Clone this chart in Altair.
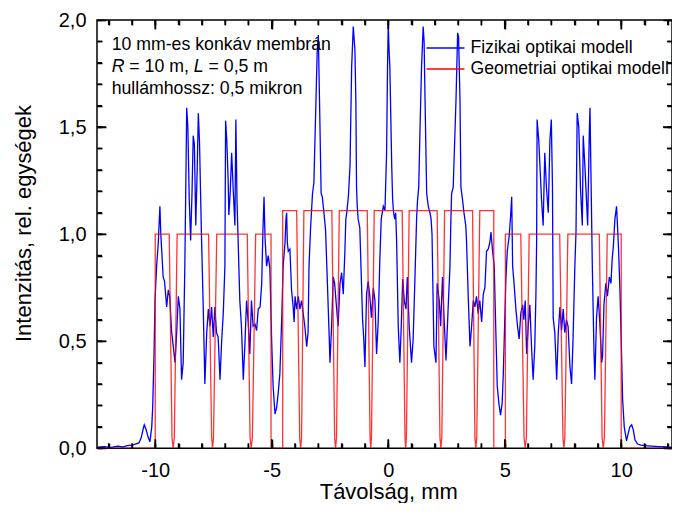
import altair as alt
import pandas as pd

FONT = "Liberation Sans"
series = ["Fizikai optikai modell", "Geometriai optikai modell"]
TICK = "tick"

# Physical optics model (blue)
blue_x = [-12.5, -12.2, -11.9, -11.6, -11.4, -11.2, -11.0, -10.85, -10.7, -10.6, -10.52, -10.47, -10.4, -10.3,
          -10.23, -10.15, -10.11, -10.05, -10.01, -9.94, -9.87, -9.8, -9.76, -9.73, -9.66, -9.6, -9.51, -9.44,
          -9.38, -9.30, -9.2, -9.15, -9.08, -9.01, -8.94, -8.87, -8.80, -8.73, -8.68, -8.65, -8.6, -8.54, -8.48,
          -8.42, -8.37, -8.32, -8.26, -8.2, -8.15, -8.1, -8.02, -7.94, -7.87, -7.79, -7.72, -7.65, -7.58, -7.51,
          -7.44, -7.37, -7.3, -7.22, -7.15, -7.08, -7.01, -6.98, -6.93, -6.87, -6.84, -6.78, -6.72, -6.65, -6.58,
          -6.54, -6.49, -6.44, -6.37, -6.30, -6.22, -6.15, -6.08, -6.01, -5.94, -5.87, -5.80, -5.72, -5.65, -5.58,
          -5.5, -5.43, -5.38, -5.33, -5.29, -5.22, -5.15, -5.08, -5.00, -4.94, -4.86, -4.79, -4.72, -4.65, -4.57,
          -4.51, -4.43, -4.39, -4.36, -4.33, -4.29, -4.22, -4.15, -4.08, -4.04, -4.0, -3.93, -3.86, -3.79, -3.72,
          -3.65, -3.58, -3.50, -3.44, -3.4, -3.33, -3.25, -3.19, -3.10, -3.05, -3.00, -2.95, -2.88, -2.83, -2.76,
          -2.69, -2.62, -2.53, -2.50, -2.43, -2.36, -2.3, -2.22, -2.15, -2.07, -2.0, -1.93, -1.86, -1.82, -1.78,
          -1.71, -1.64, -1.57, -1.50, -1.43, -1.39, -1.36, -1.33, -1.29, -1.22, -1.17, -1.10, -1.05, -1.00, -0.93,
          -0.86, -0.79, -0.72, -0.64, -0.57, -0.50, -0.43, -0.36, -0.3, -0.21, -0.14, -0.07, -0.03, 0.0,
          0.04, 0.07, 0.15, 0.19, 0.23, 0.28, 0.32, 0.36, 0.43, 0.50, 0.56, 0.62, 0.69, 0.76, 0.82, 0.90, 1.0,
          1.07, 1.14, 1.22, 1.26, 1.31, 1.36, 1.43, 1.50, 1.54, 1.58, 1.65, 1.72, 1.79, 1.84, 1.88, 1.96, 2.05,
          2.10, 2.19, 2.25, 2.33, 2.40, 2.48, 2.57, 2.65, 2.69, 2.72, 2.79, 2.91, 2.98, 3.02, 3.08, 3.12, 3.19,
          3.25, 3.33, 3.36, 3.44, 3.51, 3.58, 3.65, 3.72, 3.79, 3.86, 3.93, 4.01, 4.08, 4.15, 4.22, 4.29, 4.36,
          4.41, 4.48, 4.55, 4.62, 4.68, 4.75, 4.82, 4.89, 4.94, 4.98, 5.05, 5.11, 5.19, 5.25, 5.30, 5.34, 5.4,
          5.48, 5.55, 5.62, 5.69, 5.77, 5.82, 5.88, 5.94, 6.01, 6.08, 6.15, 6.22, 6.29, 6.34, 6.37, 6.39, 6.46,
          6.58, 6.65, 6.72, 6.79, 6.87, 6.94, 7.0, 7.05, 7.08, 7.15, 7.23, 7.30, 7.37, 7.44, 7.51, 7.58, 7.65,
          7.72, 7.80, 7.87, 7.94, 8.01, 8.06, 8.11, 8.18, 8.25, 8.33, 8.37, 8.44, 8.51, 8.56, 8.63, 8.66, 8.71,
          8.76, 8.83, 8.87, 8.94, 9.01, 9.08, 9.16, 9.2, 9.26, 9.34, 9.41, 9.49, 9.56, 9.61, 9.66, 9.73, 9.80,
          9.84, 9.89, 9.95, 10.0, 10.06, 10.13, 10.23, 10.3, 10.37, 10.45, 10.52, 10.59, 10.7, 10.85, 11.0, 11.3,
          11.6, 12.0, 12.5]
blue_y = [0.005, 0.008, 0.004, 0.01, 0.006, 0.012, 0.015, 0.02, 0.025, 0.05, 0.09, 0.11, 0.09, 0.05,
          0.03, 0.1, 0.19, 0.45, 0.69, 0.85, 0.96, 1.13, 1.0, 0.94, 0.80, 0.78, 0.66, 0.74,
          0.71, 0.55, 0.45, 0.40, 0.54, 0.71, 0.65, 0.32, 0.40, 0.85, 1.3, 1.59, 1.50, 1.16, 0.97,
          1.2, 1.46, 1.42, 1.04, 1.3, 1.565, 1.43, 1.01, 0.66, 0.30, 0.54, 0.65, 0.57, 0.66, 0.52,
          0.66, 0.54, 0.52, 0.32, 0.5, 0.63, 0.85, 1.53, 1.44, 1.25, 1.09, 1.2, 1.38, 1.2, 1.04,
          1.535, 1.16, 0.96, 0.69, 0.57, 0.32, 0.49, 0.69, 0.59, 0.44, 0.69, 0.57, 0.58, 0.55, 0.65,
          0.66, 0.77, 1.01, 1.175, 0.99, 0.85, 0.90, 0.84, 0.49, 0.29, 0.16, 0.19, 0.26, 0.35, 0.61,
          0.85, 0.96, 1.07, 1.10, 0.96, 0.92, 0.93, 0.74, 0.66, 0.59, 0.71, 0.65, 0.71, 0.65, 0.69,
          0.63, 0.57, 0.475, 0.54, 0.85, 1.035, 1.19, 1.24, 1.63, 1.85, 1.93, 1.63, 1.19, 1.175, 1.10,
          1.02, 0.80, 0.51, 0.40, 0.57, 0.80, 0.77, 0.66, 0.57, 0.77, 0.82, 0.72, 0.92, 1.07, 1.10,
          1.175, 1.32, 1.78, 1.97, 1.86, 1.63, 1.22, 1.13, 1.07, 1.03, 0.85, 0.60, 0.51, 0.38, 0.72,
          0.78, 0.71, 0.61, 0.75, 0.69, 0.44, 0.59, 0.88, 1.07, 1.13, 1.11, 1.38, 1.78, 1.98,
          1.85, 1.78, 1.32, 1.16, 1.10, 1.07, 1.1, 0.97, 0.57, 0.40, 0.57, 0.79, 0.69, 0.65, 0.80, 0.57, 0.40,
          0.51, 0.77, 1.08, 1.16, 1.22, 1.47, 1.78, 1.97, 1.9, 1.63, 1.19, 1.13, 1.10, 1.07, 1.0, 0.475, 0.40,
          0.77, 0.69, 0.57, 0.80, 0.60, 0.41, 0.65, 0.85, 1.07, 1.19, 1.22, 1.63, 1.94, 1.92, 1.63, 1.22, 1.16,
          1.10, 1.04, 0.97, 0.69, 0.475, 0.57, 0.69, 0.66, 0.71, 0.63, 0.69, 0.59, 0.72, 0.75, 0.92, 0.93, 0.96,
          1.01, 0.92, 0.85, 0.54, 0.29, 0.21, 0.155, 0.21, 0.35, 0.51, 0.79, 0.92, 0.99, 1.08, 1.175, 0.85, 0.77,
          0.65, 0.57, 0.51, 0.63, 0.67, 0.60, 0.69, 0.44, 0.57, 0.67, 0.475, 0.32, 0.475, 0.72, 0.97, 1.535, 1.44,
          1.16, 1.04, 1.38, 1.22, 1.10, 1.44, 1.535, 1.22, 0.61, 0.54, 0.32, 0.54, 0.66, 0.55, 0.65, 0.54, 0.6,
          0.57, 0.38, 0.30, 0.54, 0.85, 1.01, 1.565, 1.50, 1.22, 1.04, 1.46, 1.32, 1.16, 1.04, 1.47, 1.59, 1.22,
          0.85, 0.46, 0.32, 0.61, 0.71, 0.59, 0.40, 0.43, 0.67, 0.77, 0.71, 0.80, 0.77, 0.88, 0.94, 1.07, 1.13,
          1.04, 0.92, 0.72, 0.51, 0.23, 0.10, 0.035, 0.07, 0.10, 0.11, 0.085, 0.04, 0.02, 0.015, 0.012, 0.01,
          0.008, 0.006, 0.005]

# Geometric optics model (red)
red_x = [-12.5, -10.0, -10.0, -9.40, -9.28, -9.23, -9.18, -9.06, -7.71, -7.58, -7.54, -7.50, -7.36, -6.05,
         -5.93, -5.88, -5.83, -5.69, -5.03, -5.03, -4.53, -4.53, -3.93, -3.80, -3.76, -3.72, -3.62, -2.42,
         -2.30, -2.26, -2.22, -2.10, -0.90, -0.78, -0.75, -0.72, -0.60, 0.60, 0.72, 0.75, 0.78, 0.90, 2.10,
         2.22, 2.26, 2.30, 2.42, 3.62, 3.72, 3.76, 3.80, 3.93, 4.53, 4.53, 5.03, 5.03, 5.69, 5.83, 5.88, 5.93,
         6.05, 7.36, 7.50, 7.54, 7.58, 7.71, 9.06, 9.18, 9.23, 9.28, 9.40, 10.0, 10.0, 12.5]
red_y = [0, 0, 1.0, 1.0, 0.05, 0, 0.05, 1.0, 1.0, 0.05, 0, 0.05, 1.0, 1.0,
         0.05, 0, 0.05, 1.0, 1.0, 0, 0, 1.11, 1.11, 0.05, 0, 0.05, 1.11, 1.11,
         0.05, 0, 0.05, 1.11, 1.11, 0.05, 0, 0.05, 1.11, 1.11, 0.05, 0, 0.05, 1.11, 1.11,
         0.05, 0, 0.05, 1.11, 1.11, 0.05, 0, 0.05, 1.11, 1.11, 0, 0, 1.0, 1.0, 0.05, 0, 0.05,
         1.0, 1.0, 0.05, 0, 0.05, 1.0, 1.0, 0.05, 0, 0.05, 1.0, 1.0, 0, 0]

x_major = [-10, -5, 0, 5, 10]
x_minor = list(range(-12, 13))
y_major = [0.0, 0.5, 1.0, 1.5, 2.0]
y_minor = [round(i * 0.1, 1) for i in range(21)]

ann_x = -11.87
ann_lines = ["10 mm-es konkáv membrán", "hullámhossz: 0,5 mikron"]
ann_line_y = [1.862, 1.656]
ann_mid_y = 1.759

PX = 23.3                      # pixels per mm on the x axis
X_MIN, X_MAX = -12.5, 12.18    # right edge limited by the page width
Y_MIN, Y_MAX = 0.0, 2.0
W = (X_MAX - X_MIN) * PX
H = 428.3
PY = H / (Y_MAX - Y_MIN)       # pixels per unit on the y axis
MAJ, MIN = 9, 5                # tick lengths in px

blue_df = pd.DataFrame({"x": blue_x, "y": blue_y, "i": range(len(blue_x)), "s": series[0], "id": 0})
red_df = pd.DataFrame({"x": red_x, "y": red_y, "i": range(len(red_x)), "s": series[1], "id": 0})

# inward tick segments on all four sides (start / end rows for each tick)
rows = []
tid = 1
for vals, ln in ((x_major, MAJ), (x_minor, MIN)):
    for v in vals:
        for edge, d in ((Y_MIN, 1), (Y_MAX, -1)):
            rows += [(float(v), edge, tid, 0, TICK), (float(v), edge + d * ln / PY, tid, 1, TICK)]
            tid += 1
for vals, ln in ((y_major, MAJ), (y_minor, MIN)):
    for v in vals:
        for edge, d in ((X_MIN, 1), (X_MAX, -1)):
            rows += [(edge, float(v), tid, 0, TICK), (edge + d * ln / PX, float(v), tid, 1, TICK)]
            tid += 1
tick_df = pd.DataFrame(rows, columns=["x", "y", "id", "i", "s"])

xs = alt.Scale(domain=[X_MIN, X_MAX], nice=False, zero=False)
ys = alt.Scale(domain=[Y_MIN, Y_MAX], nice=False, zero=False)

color = alt.Color(
    "s:N",
    scale=alt.Scale(domain=series + [TICK], range=["#0000ff", "#ff0000", "#000000"]),
    legend=alt.Legend(
        values=series,
        title=None, orient="none", legendX=328.5, legendY=17.5, symbolType="stroke",
        symbolSize=1444, symbolStrokeWidth=1.5, symbolOpacity=1, labelFont=FONT, labelFontSize=17.6,
        labelColor="black", clipHeight=21, rowPadding=0, padding=0, labelOffset=5, labelLimit=400,
    ),
)


def tick_axis(orient, vals, size):
    # inward ticks only (negative size given as an expression)
    return alt.Axis(orient=orient, values=vals, ticks=True, tickSize={"expr": str(-size)}, tickWidth=1.5,
                    tickColor="black", labels=False, domain=False, grid=False, title=None)


blue = alt.Chart(blue_df).mark_line(strokeWidth=1.3, clip=True).encode(
    x=alt.X("x:Q", scale=xs, axis=alt.Axis(
        orient="bottom", values=x_major, labelExpr="toString(datum.value)", ticks=False, tickSize=0,
        labelPadding=12, labelFont=FONT, labelFontSize=20, labelColor="black", labelFlush=False,
        title="Távolság, mm", titleFont=FONT, titleFontSize=22, titleFontWeight="normal",
        titleColor="black", titleBaseline="alphabetic", titleX=291.25, titleY=50,
        domain=False, grid=False)),
    y=alt.Y("y:Q", scale=ys, axis=alt.Axis(
        orient="left", values=y_major, labelExpr="replace(format(datum.value, '.1f'), '.', ',')",
        ticks=False, tickSize=0, labelPadding=11, labelFont=FONT, labelFontSize=20, labelColor="black",
        labelFlush=False, title="Intenzitás, rel. egységek", titleFont=FONT, titleFontSize=22,
        titleFontWeight="normal", titleColor="black", titlePadding=23, titleY=203,
        domain=False, grid=False)),
    color=color,
    order=alt.Order("i:Q"),
)

red = alt.Chart(red_df).mark_line(strokeWidth=1.3, opacity=0.8, clip=True).encode(
    x=alt.X("x:Q", scale=xs, axis=tick_axis("bottom", x_major, MAJ)),
    y=alt.Y("y:Q", scale=ys, axis=tick_axis("left", y_major, MAJ)),
    color=color,
    order=alt.Order("i:Q"),
)

ticks = alt.Chart(tick_df).mark_line(strokeWidth=1.5, clip=True).encode(
    x=alt.X("x:Q", scale=xs, axis=None),
    y=alt.Y("y:Q", scale=ys, axis=None),
    color=color,
    detail="id:N",
    order=alt.Order("i:Q"),
)

ann_df = pd.DataFrame({"x": [ann_x, ann_x], "y": ann_line_y, "t": ann_lines})
mid_df = pd.DataFrame({"x": [ann_x], "y": [ann_mid_y]})
FS = 17.7


def txt(df, text, dx=0, style="normal", xaxis=None, yaxis=None):
    return alt.Chart(df).mark_text(
        align="left", baseline="alphabetic", font=FONT, fontSize=FS, fontStyle=style, color="black", dx=dx
    ).encode(
        x=alt.X("x:Q", scale=xs, axis=xaxis),
        y=alt.Y("y:Q", scale=ys, axis=yaxis),
        text=text,
    )


a1 = txt(ann_df, alt.Text("t:N"),
         xaxis=tick_axis("bottom", x_minor, MIN), yaxis=tick_axis("left", y_minor, MIN))
a2 = txt(mid_df, alt.value("R"), 0, "italic",
         xaxis=tick_axis("top", x_major, MAJ), yaxis=tick_axis("right", y_major, MAJ))
a3 = txt(mid_df, alt.value("= 10 m,"), 0.722 * FS + 0.278 * FS,
         xaxis=tick_axis("top", x_minor, MIN), yaxis=tick_axis("right", y_minor, MIN))
a4 = txt(mid_df, alt.value("L"), (0.722 + 3.919) * FS, "italic")
a5 = txt(mid_df, alt.value("= 0,5 m"), (0.722 + 3.919 + 0.556 + 0.278) * FS)

chart = alt.layer(blue, red, ticks, a1, a2, a3, a4, a5).resolve_axis(
    x="independent", y="independent"
).properties(
    width=W, height=H, autosize=alt.AutoSizeParams(type="none"),
    padding={"left": 89, "top": 12, "right": 0, "bottom": 54.7},
    background="white",
).configure_view(stroke="black", strokeWidth=1.5)

chart.save("out.html", embed_options={"renderer": "svg", "actions": False})
